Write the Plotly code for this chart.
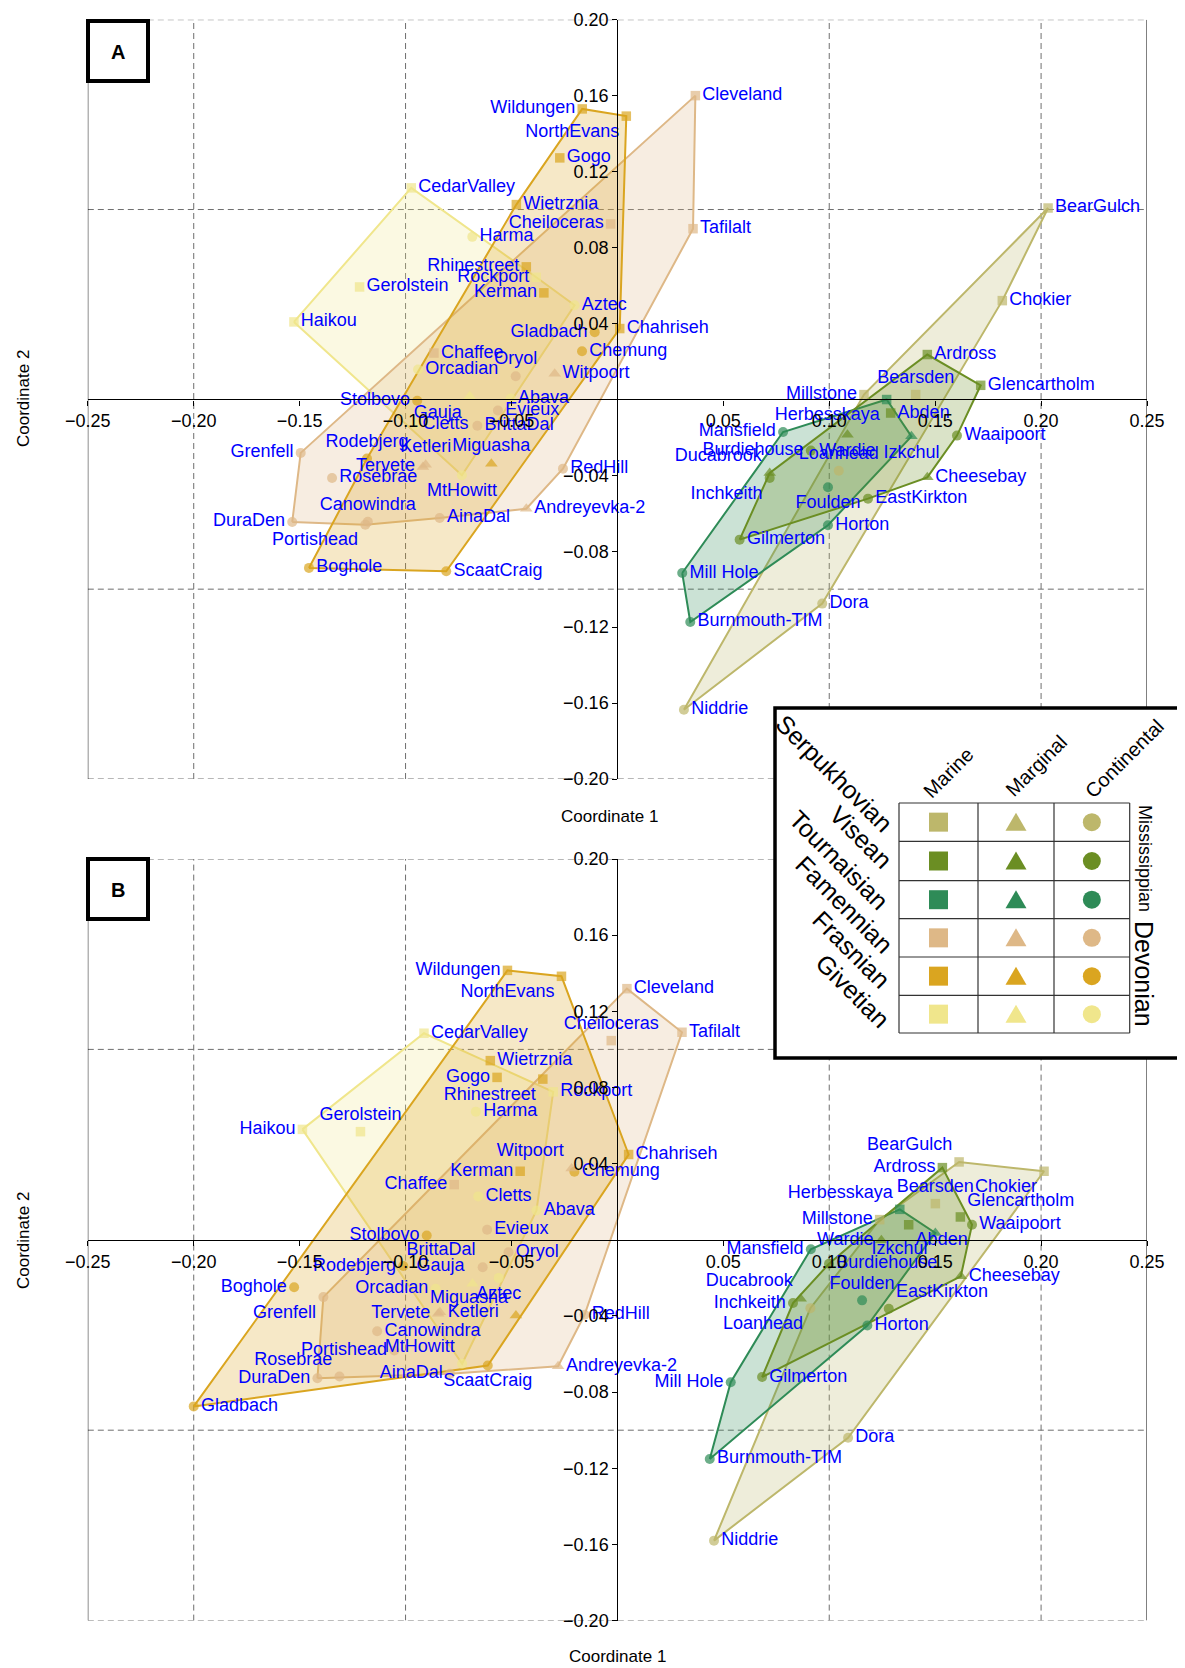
import numpy as np
import plotly.graph_objects as go

W, H = 1185, 1668

# ---------------- categories ----------------
stages = ["Serpukhovian", "Visean", "Tournaisian", "Famennian", "Frasnian", "Givetian"]
stage_colors = ["#BDB76B", "#6B8E23", "#2E8B57", "#DEB887", "#DAA520", "#F0E68C"]
environments = ["Marine", "Marginal", "Continental"]
env_symbols = ["square", "triangle-up", "circle"]
periods = ["Mississippian", "Devonian"]

# ---------------- data ----------------
sites = ["CedarValley", "Gerolstein", "Haikou", "Rockport", "Gauja", "Harma", "Aztec", "Orcadian",
         "Cletts", "Abava", "MtHowitt",
         "Wildungen", "NorthEvans", "Gogo", "Wietrznia", "Rhinestreet", "Kerman", "Chahriseh",
         "Miguasha", "Gladbach", "Chemung", "Stolbovo", "Rodebjerg", "Boghole", "ScaatCraig",
         "Cleveland", "Cheiloceras", "Tafilalt", "Chaffee", "Witpoort", "Andreyevka-2", "Tervete",
         "Ketleri", "Oryol", "Evieux", "BrittaDal", "Grenfell", "Rosebrae", "RedHill", "Canowindra",
         "DuraDen", "Portishead", "AinaDal",
         "Herbesskaya", "Izkchul", "Mansfield", "Foulden", "Horton", "Mill Hole", "Burnmouth-TIM",
         "Ardross", "Glencartholm", "Abden", "Wardie", "Ducabrook", "Cheesebay", "Waaipoort",
         "Burdiehouse", "Inchkeith", "EastKirkton", "Gilmerton",
         "BearGulch", "Chokier", "Millstone", "Bearsden", "Loanhead", "Dora", "Niddrie"]

site_stage = (["Givetian"] * 11 + ["Frasnian"] * 14 + ["Famennian"] * 18 +
              ["Tournaisian"] * 7 + ["Visean"] * 11 + ["Serpukhovian"] * 7)

site_env = ["Marine", "Marine", "Marine", "Marine", "Marginal", "Continental", "Continental", "Continental",
            "Continental", "Continental", "Continental",
            "Marine", "Marine", "Marine", "Marine", "Marine", "Marine", "Marine",
            "Marginal", "Continental", "Continental", "Continental", "Continental", "Continental", "Continental",
            "Marine", "Marine", "Marine", "Marine", "Marginal", "Marginal", "Marginal",
            "Marginal", "Continental", "Continental", "Continental", "Continental", "Continental", "Continental",
            "Continental", "Continental", "Continental", "Continental",
            "Marine", "Marginal", "Continental", "Continental", "Continental", "Continental", "Continental",
            "Marine", "Marine", "Marine", "Marginal", "Marginal", "Marginal", "Continental",
            "Continental", "Continental", "Continental", "Continental",
            "Marine", "Marine", "Marine", "Marine", "Continental", "Continental", "Continental"]

coord1_A = [-0.0973, -0.1217, -0.1527, -0.0383, -0.0697, -0.0685, -0.0202, -0.0941,
            -0.0954, -0.0504, -0.0734,
            -0.0166, 0.0042, -0.0272, -0.0477, -0.0430, -0.0347, 0.0011,
            -0.0595, -0.0107, -0.0167, -0.0945, -0.1182, -0.1456, -0.0808,
            0.0368, -0.0032, 0.0357, -0.0866, -0.0296, -0.0430, -0.0918,
            -0.0905, -0.0480, -0.0564, -0.0661, -0.1495, -0.1347, -0.0257, -0.1178,
            -0.1535, -0.1190, -0.0839,
            0.1271, 0.1388, 0.0782, 0.0994, 0.0994, 0.0306, 0.0344,
            0.1463, 0.1715, 0.1290, 0.1086, 0.0719, 0.1463, 0.1603,
            0.0913, 0.0719, 0.1183, 0.0577,
            0.2033, 0.1817, 0.1164, 0.1408, 0.1045, 0.0967, 0.0314]

coord2_A = [0.1114, 0.0592, 0.0408, 0.0643, 0.0016, 0.0856, 0.0496, 0.0157,
            -0.0133, 0.0004, -0.0400,
            0.1530, 0.1492, 0.1272, 0.1026, 0.0698, 0.0561, 0.0373,
            -0.0339, 0.0354, 0.0253, -0.0007, -0.0312, -0.0888, -0.0906,
            0.1600, 0.0924, 0.0899, 0.0244, 0.0135, -0.0576, -0.0356,
            -0.0345, 0.0122, -0.0059, -0.0139, -0.0282, -0.0414, -0.0365, -0.0645,
            -0.0646, -0.0660, -0.0625,
            -0.0001, -0.0195, -0.0172, -0.0463, -0.0663, -0.0915, -0.1173,
            0.0236, 0.0074, -0.0072, -0.0186, -0.0388, -0.0411, -0.0191,
            -0.0270, -0.0414, -0.0523, -0.0739,
            0.1008, 0.0520, 0.0025, 0.0025, -0.0376, -0.1076, -0.1635]

coord1_B = [-0.0913, -0.1213, -0.1487, -0.0303, -0.0684, -0.0668, -0.0560, -0.0858,
            -0.0657, -0.0382, -0.0733,
            -0.0519, -0.0264, -0.0568, -0.0600, -0.0352, -0.0459, 0.0053,
            -0.0479, -0.2000, -0.0203, -0.0900, -0.1011, -0.1526, -0.0612,
            0.0045, -0.0029, 0.0305, -0.0770, -0.0216, -0.0280, -0.0846,
            -0.0838, -0.0514, -0.0615, -0.0636, -0.1388, -0.1312, -0.0155, -0.1134,
            -0.1416, -0.1053, -0.0790,
            0.1333, 0.1501, 0.0913, 0.1155, 0.1180, 0.0535, 0.0436,
            0.1534, 0.1619, 0.1375, 0.1246, 0.0865, 0.1621, 0.1674,
            0.0999, 0.0829, 0.1281, 0.0683,
            0.1613, 0.2014, 0.1238, 0.1501, 0.0911, 0.1089, 0.0456]

coord2_B = [0.1085, 0.0568, 0.0580, 0.0777, -0.0231, 0.0673, -0.0200, -0.0257,
            0.0228, 0.0154, -0.0651,
            0.1415, 0.1384, 0.0853, 0.0941, 0.0844, 0.0360, 0.0448,
            -0.0397, -0.0875, 0.0357, 0.0023, -0.0138, -0.0249, -0.0660,
            0.1319, 0.1046, 0.1090, 0.0290, 0.0374, -0.0664, -0.0389,
            -0.0380, -0.0065, 0.0053, -0.0144, -0.0301, -0.0718, -0.0394, -0.0480,
            -0.0727, -0.0581, -0.0704,
            0.0160, 0.0036, -0.0050, -0.0318, -0.0450, -0.0748, -0.1151,
            0.0379, 0.0120, 0.0079, -0.0003, -0.0310, -0.0192, 0.0079,
            -0.0126, -0.0332, -0.0362, -0.0721,
            0.0409, 0.0360, 0.0106, 0.0190, -0.0359, -0.1040, -0.1580]

x_ticks = [-0.25, -0.20, -0.15, -0.10, -0.05, 0.05, 0.10, 0.15, 0.20, 0.25]
y_ticks = [-0.20, -0.16, -0.12, -0.08, -0.04, 0.04, 0.08, 0.12, 0.16, 0.20]

# ---------------- label placement (style) ----------------
POS = {"mr": "middle right", "ml": "middle left", "tc": "top center", "bc": "bottom center",
       "tl": "top left", "tr": "top right", "bl": "bottom left", "br": "bottom right"}
label_pos_A = ["mr", "mr", "mr", "ml", "bl", "mr", "mr", "mr", "mr", "mr", "bc",
               "ml", "bl", "mr", "mr", "ml", "ml", "mr", "tc", "ml", "mr", "ml", "tc", "mr", "mr",
               "mr", "ml", "mr", "mr", "mr", "mr", "ml", "tc", "tc", "mr", "mr", "ml", "mr", "mr", "tc",
               "ml", "bl", "mr",
               "bl", "bc", "ml", "bc", "mr", "mr", "mr",
               "mr", "mr", "mr", "bc", "tl", "mr", "mr", "ml", "bl", "mr", "mr",
               "mr", "mr", "ml", "tc", "tc", "mr", "mr"]
label_pos_B = ["mr", "tc", "ml", "mr", "tl", "mr", "bc", "ml", "mr", "mr", "tl",
               "ml", "bl", "ml", "mr", "bl", "ml", "mr", "tl", "mr", "mr", "ml", "ml", "ml", "bc",
               "mr", "tc", "mr", "ml", "tl", "mr", "ml", "mr", "mr", "mr", "tl", "bl", "tl", "mr", "mr",
               "ml", "ml", "ml",
               "tl", "bl", "ml", "tc", "mr", "ml", "mr",
               "ml", "tr", "br", "ml", "tl", "mr", "mr", "mr", "ml", "tr", "mr",
               "tl", "bl", "ml", "tc", "bl", "mr", "mr"]

# ---------------- layout geometry ----------------
X_DOM = [79.8 / W, 1139.0 / W]
Y_DOM_A = [1 - 771.0 / H, 1 - 11.7 / H]
Y_DOM_B = [1 - 1612.6 / H, 1 - 851.0 / H]
FONT = "Liberation Sans, Arial, Helvetica, sans-serif"


def rgba(hexc, a):
    h = hexc.lstrip("#")
    return "rgba(%d,%d,%d,%.2f)" % (int(h[0:2], 16), int(h[2:4], 16), int(h[4:6], 16), a)


def convex_hull(points):
    pts = sorted(set(points))
    if len(pts) < 3:
        return pts

    def cross(o, a, b):
        return (a[0] - o[0]) * (b[1] - o[1]) - (a[1] - o[1]) * (b[0] - o[0])
    lower, upper = [], []
    for p in pts:
        while len(lower) >= 2 and cross(lower[-2], lower[-1], p) <= 0:
            lower.pop()
        lower.append(p)
    for p in reversed(pts):
        while len(upper) >= 2 and cross(upper[-2], upper[-1], p) <= 0:
            upper.pop()
        upper.append(p)
    return lower[:-1] + upper[:-1]


color_of = dict(zip(stages, stage_colors))
symbol_of = dict(zip(environments, env_symbols))
size_of = {"Marine": 9.5, "Marginal": 11, "Continental": 10}

fig = go.Figure()

hull_order = ["Givetian", "Famennian", "Frasnian", "Serpukhovian", "Tournaisian", "Visean"]
panels = [("x", "y", coord1_A, coord2_A, label_pos_A), ("x2", "y2", coord1_B, coord2_B, label_pos_B)]

for xa, ya, cx, cy, lpos in panels:
    for st in hull_order:
        pts = [(cx[i], cy[i]) for i in range(len(sites)) if site_stage[i] == st]
        hp = convex_hull(pts)
        hx = [p[0] for p in hp] + [hp[0][0]]
        hy = [p[1] for p in hp] + [hp[0][1]]
        fig.add_trace(go.Scatter(x=hx, y=hy, mode="lines", fill="toself",
                                 fillcolor=rgba(color_of[st], 0.25),
                                 line=dict(color=color_of[st], width=2),
                                 hoverinfo="skip", showlegend=False, xaxis=xa, yaxis=ya))
    fig.add_trace(go.Scatter(
        x=cx, y=cy, mode="markers+text", text=sites,
        textposition=[POS[p] for p in lpos],
        textfont=dict(family=FONT, size=18, color="#0000FF"),
        marker=dict(symbol=[symbol_of[e] for e in site_env],
                    color=[color_of[s] for s in site_stage],
                    size=[size_of[e] for e in site_env], line=dict(width=0)),
        cliponaxis=False, showlegend=False, xaxis=xa, yaxis=ya))

axis_common = dict(range=[-0.25, 0.25], showgrid=False, zeroline=False, showline=True,
                   linecolor="black", linewidth=1.3, ticks="outside", ticklen=5,
                   tickcolor="black", tickformat=".2f", automargin=False,
                   tickfont=dict(family=FONT, size=18, color="black"))
y_common = dict(axis_common)
y_common["range"] = [-0.2, 0.2]

fig.update_layout(
    width=W, height=H, margin=dict(l=0, r=0, t=0, b=0, pad=0, autoexpand=False),
    paper_bgcolor="white", plot_bgcolor="rgba(0,0,0,0)",
    showlegend=False, hovermode=False,
    xaxis=dict(axis_common, domain=X_DOM, anchor="free",
               position=Y_DOM_A[0] + 0.5 * (Y_DOM_A[1] - Y_DOM_A[0]), tickvals=x_ticks),
    yaxis=dict(y_common, domain=Y_DOM_A, anchor="free",
               position=X_DOM[0] + 0.5 * (X_DOM[1] - X_DOM[0]), tickvals=y_ticks),
    xaxis2=dict(axis_common, domain=X_DOM, anchor="free",
                position=Y_DOM_B[0] + 0.5 * (Y_DOM_B[1] - Y_DOM_B[0]), tickvals=x_ticks),
    yaxis2=dict(y_common, domain=Y_DOM_B, anchor="free",
                position=X_DOM[0] + 0.5 * (X_DOM[1] - X_DOM[0]), tickvals=y_ticks),
)

shapes = []
annotations = []
GRID = dict(color="#6e6e6e", width=1, dash="6px,4px")
for xr, yr in [("x", "y"), ("x2", "y2")]:
    for gx in [-0.2, -0.1, 0.1, 0.2]:
        shapes.append(dict(type="line", xref=xr, yref=yr, x0=gx, x1=gx, y0=-0.2, y1=0.2,
                           line=GRID, layer="below"))
    for gy in [-0.2, -0.1, 0.1, 0.2]:
        shapes.append(dict(type="line", xref=xr, yref=yr, x0=-0.25, x1=0.25, y0=gy, y1=gy,
                           line=GRID, layer="below"))
    for bx in [-0.25, 0.25]:
        shapes.append(dict(type="line", xref=xr, yref=yr, x0=bx, x1=bx, y0=-0.2, y1=0.2,
                           line=dict(color="black", width=1), layer="below"))


def P(px, py):
    return px / W, 1 - py / H


def add_text(px, py, text, size, angle=0):
    a, b = P(px, py)
    annotations.append(dict(x=a, y=b, xref="paper", yref="paper", text=text, textangle=angle,
                            xanchor="center", yanchor="middle", showarrow=False,
                            font=dict(family=FONT, size=size, color="black")))


# panel letters
for letter, top in [("A", 13.0), ("B", 851.0)]:
    x0, y0 = P(80, top)
    x1, y1 = P(140, top + 60)
    shapes.append(dict(type="rect", xref="paper", yref="paper", x0=x0, x1=x1, y0=y1, y1=y0,
                       line=dict(color="black", width=4), fillcolor="white", layer="above"))
    add_text(110, top + 31, "<b>%s</b>" % letter, 20)

# axis titles
add_text(601, 808, "Coordinate 1", 17)
add_text(609, 1648, "Coordinate 1", 17)
add_text(15, 391, "Coordinate 2", 17, -90)
add_text(15, 1233, "Coordinate 2", 17, -90)

# ---------------- custom legend ----------------
LB = (767, 700, 1181, 1050)
x0, y0 = P(LB[0], LB[1])
x1, y1 = P(LB[2], LB[3])
shapes.append(dict(type="rect", xref="paper", yref="paper", x0=x0, x1=x1, y0=y1, y1=y0,
                   line=dict(color="black", width=3.5), fillcolor="white", layer="above"))
col_edges = [891, 970, 1046, 1121.7]
row_edges = [795, 833.3, 872.7, 910.7, 949, 987.3, 1025]
TL = dict(color="#333333", width=1.2)
for cxe in col_edges:
    a, b = P(cxe, row_edges[0])
    a2, b2 = P(cxe, row_edges[-1])
    shapes.append(dict(type="line", xref="paper", yref="paper", x0=a, x1=a2, y0=b, y1=b2,
                       line=TL, layer="above"))
for rye in row_edges:
    a, b = P(col_edges[0], rye)
    a2, b2 = P(col_edges[-1], rye)
    shapes.append(dict(type="line", xref="paper", yref="paper", x0=a, x1=a2, y0=b, y1=b2,
                       line=TL, layer="above"))

col_centers = [(col_edges[i] + col_edges[i + 1]) / 2 for i in range(3)]
row_centers = [(row_edges[i] + row_edges[i + 1]) / 2 for i in range(6)]
for ri, st in enumerate(stages):
    col = color_of[st]
    cyc = row_centers[ri]
    for ci, env in enumerate(environments):
        cxc = col_centers[ci]
        sym = symbol_of[env]
        if sym == "square":
            a, b = P(cxc - 9.5, cyc - 9.5)
            a2, b2 = P(cxc + 9.5, cyc + 9.5)
            shapes.append(dict(type="rect", xref="paper", yref="paper", x0=a, x1=a2, y0=b2, y1=b,
                               line=dict(width=0), fillcolor=col, layer="above"))
        elif sym == "circle":
            a, b = P(cxc - 9, cyc - 9)
            a2, b2 = P(cxc + 9, cyc + 9)
            shapes.append(dict(type="circle", xref="paper", yref="paper", x0=a, x1=a2, y0=b2, y1=b,
                               line=dict(width=0), fillcolor=col, layer="above"))
        else:
            p1 = P(cxc - 10.5, cyc + 8.5)
            p2 = P(cxc + 10.5, cyc + 8.5)
            p3 = P(cxc, cyc - 9.5)
            path = "M%.5f,%.5f L%.5f,%.5f L%.5f,%.5f Z" % (p1 + p2 + p3)
            shapes.append(dict(type="path", xref="paper", yref="paper", path=path,
                               line=dict(width=0), fillcolor=col, layer="above"))

stage_label_xy = [(826, 765), (853, 829), (831, 852), (836, 896), (843, 941), (845, 983)]
for st, (sx, sy) in zip(stages, stage_label_xy):
    add_text(sx, sy, st, 25, 45)
env_label_xy = [(940, 765), (1028, 758), (1116, 751)]
for env, (ex, ey) in zip(environments, env_label_xy):
    add_text(ex, ey, env, 20, -45)
period_xy = [(1137, 850, 18), (1136, 966, 25)]
for per, (qx, qy, fs) in zip(periods, period_xy):
    add_text(qx, qy, per, fs, 90)

fig.update_layout(shapes=shapes, annotations=annotations)
fig.write_html("out.html")
